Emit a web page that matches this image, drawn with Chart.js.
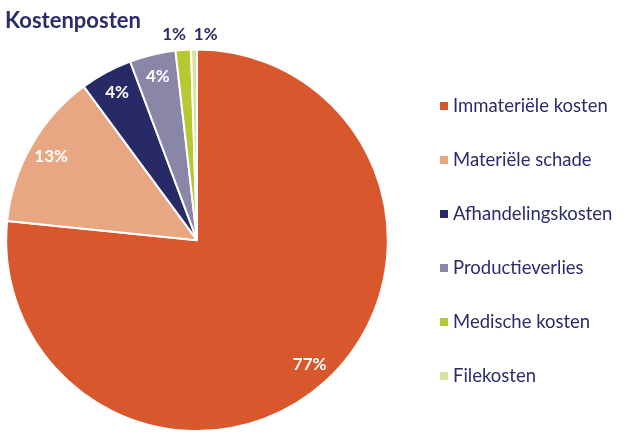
<!DOCTYPE html>
<html lang="nl">
<head>
  <meta charset="UTF-8">
  <title>Kostenposten</title>
  <script src="https://cdn.jsdelivr.net/npm/chart.js"></script>
  <style>
    body { margin: 0; background: #fff; }
    #wrap { width: 640px; height: 443px; }
  </style>
</head>
<body>
  <div id="wrap"><canvas id="myChart"></canvas></div>

  <script>
    const categories = ['Immateriële kosten', 'Materiële schade', 'Afhandelingskosten', 'Productieverlies', 'Medische kosten', 'Filekosten'];
    const shares = [76.6, 13.3, 4.4, 3.9, 1.3, 0.5];
    const colors = ['#D9572D', '#E9A683', '#272A66', '#8A86A8', '#B6C832', '#D9E2A0'];
    const navy = '#2B2C6B';
    const font = 'Lato, "Open Sans", sans-serif';

    // percentages on / next to slices
    const sliceLabels = {
      id: 'sliceLabels',
      afterDatasetsDraw(chart) {
        const ctx = chart.ctx;
        const meta = chart.getDatasetMeta(0);
        ctx.save();
        ctx.font = 'bold 17px ' + font;
        ctx.textAlign = 'center';
        ctx.textBaseline = 'middle';
        let outside = 0;
        meta.data.forEach((arc, i) => {
          const v = shares[i];
          const mid = (arc.startAngle + arc.endAngle) / 2;
          let r, dx = 0;
          if (v < 2) {
            r = arc.outerRadius + 15;
            dx = outside === 0 ? -8 : 12;
            outside++;
            ctx.fillStyle = navy;
          } else {
            r = arc.outerRadius * 0.88;
            ctx.fillStyle = '#fff';
          }
          const x = arc.x + Math.cos(mid) * r + dx;
          const y = arc.y + Math.sin(mid) * r;
          ctx.fillText(Math.round(v) + '%', x, y);
        });
        ctx.restore();
      }
    };

    // legend on the right
    const sideLegend = {
      id: 'sideLegend',
      afterDraw(chart) {
        const ctx = chart.ctx;
        ctx.save();
        ctx.font = '18.5px ' + font;
        ctx.textBaseline = 'middle';
        categories.forEach((c, i) => {
          const y = 106 + i * 54;
          ctx.fillStyle = colors[i];
          ctx.fillRect(440, y - 4, 8, 8);
          ctx.fillStyle = navy;
          ctx.fillText(c, 453, y);
        });
        ctx.restore();
      }
    };

    const ctx = document.getElementById('myChart').getContext('2d');
    const myChart = new Chart(ctx, {
      type: 'pie',
      data: {
        labels: categories,
        datasets: [{
          data: shares,
          backgroundColor: colors,
          borderColor: '#fff',
          borderWidth: 2
        }]
      },
      options: {
        responsive: true,
        maintainAspectRatio: false,
        animation: false,
        layout: { padding: { left: 5, right: 251, top: 0, bottom: 11 } },
        plugins: {
          legend: { display: false },
          tooltip: { enabled: false },
          title: {
            display: true,
            text: 'Kostenposten',
            align: 'start',
            color: navy,
            font: { family: font, size: 22, weight: 'bold', lineHeight: 1.2 },
            padding: { top: 8, bottom: 14 }
          }
        }
      },
      plugins: [sliceLabels, sideLegend]
    });
  </script>
</body>
</html>
